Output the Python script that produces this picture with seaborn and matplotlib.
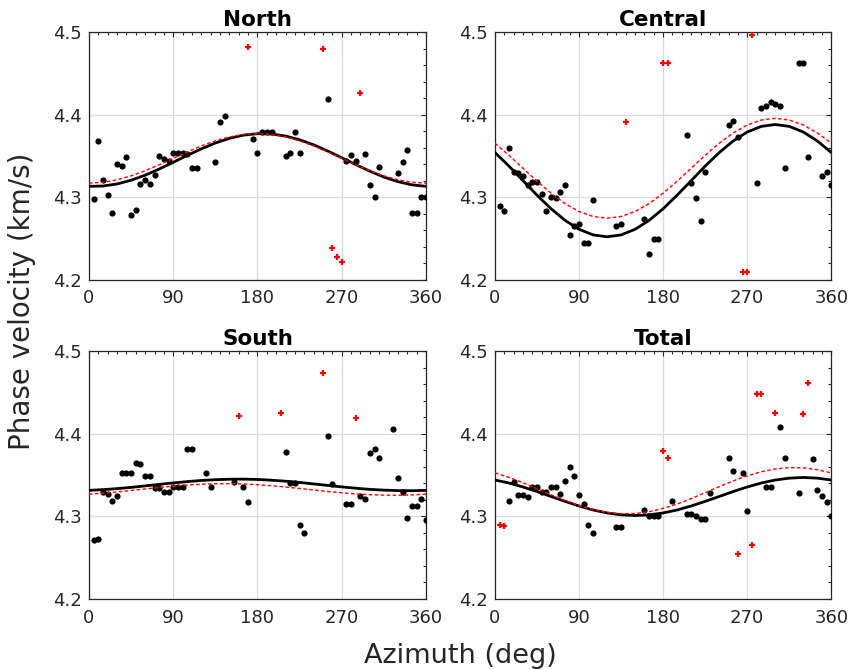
import matplotlib
matplotlib.use("Agg")
import matplotlib.pyplot as plt
from matplotlib.ticker import MultipleLocator
import seaborn as sns

# measured points (azimuth in deg, phase velocity in km/s)
north_az = [5, 10, 15, 20, 25, 30, 35, 40, 45, 50, 55, 60, 65, 70, 75, 80, 85, 90, 95, 100,
            105, 110, 115, 135, 140, 145, 175, 180, 185, 190, 195, 210, 215, 220, 225, 255,
            275, 280, 285, 295, 300, 305, 310, 330, 335, 340, 345, 350, 355, 360]
north_v = [4.298, 4.368, 4.321, 4.303, 4.281, 4.340, 4.338, 4.349, 4.278, 4.284, 4.316, 4.321,
           4.316, 4.327, 4.350, 4.346, 4.344, 4.354, 4.354, 4.354, 4.352, 4.335, 4.335, 4.342,
           4.391, 4.398, 4.371, 4.353, 4.379, 4.379, 4.379, 4.350, 4.354, 4.379, 4.354, 4.419,
           4.344, 4.351, 4.344, 4.352, 4.315, 4.300, 4.336, 4.329, 4.342, 4.357, 4.281, 4.281,
           4.300, 4.300]
north_out_az = [170, 250, 290, 260, 265, 270]
north_out_v = [4.482, 4.480, 4.426, 4.238, 4.228, 4.221]

central_az = [5, 10, 15, 20, 25, 30, 35, 40, 45, 50, 55, 60, 65, 70, 75, 80, 85, 90, 95, 100,
              105, 130, 135, 160, 165, 170, 175, 205, 210, 215, 220, 225, 250, 255, 260, 280,
              285, 290, 295, 300, 305, 310, 325, 330, 335, 350, 355, 360]
central_v = [4.289, 4.283, 4.360, 4.331, 4.329, 4.326, 4.315, 4.318, 4.318, 4.304, 4.283, 4.300,
             4.299, 4.306, 4.315, 4.254, 4.265, 4.268, 4.244, 4.245, 4.296, 4.265, 4.268, 4.274,
             4.231, 4.249, 4.249, 4.375, 4.317, 4.299, 4.271, 4.331, 4.388, 4.392, 4.373, 4.317,
             4.408, 4.411, 4.415, 4.413, 4.411, 4.335, 4.462, 4.462, 4.349, 4.326, 4.331, 4.315]
central_out_az = [140, 180, 185, 275, 265, 270]
central_out_v = [4.391, 4.463, 4.463, 4.496, 4.209, 4.209]

south_az = [5, 10, 15, 20, 25, 30, 35, 40, 45, 50, 55, 60, 65, 70, 75, 80, 85, 90, 95, 100,
            105, 110, 125, 130, 155, 165, 170, 210, 215, 220, 225, 230, 255, 260, 275, 280,
            290, 295, 300, 305, 310, 325, 330, 335, 340, 345, 350, 355, 360]
south_v = [4.271, 4.272, 4.329, 4.327, 4.318, 4.325, 4.353, 4.353, 4.352, 4.364, 4.363, 4.349,
           4.349, 4.334, 4.334, 4.329, 4.329, 4.335, 4.335, 4.335, 4.382, 4.382, 4.353, 4.335,
           4.342, 4.335, 4.317, 4.378, 4.340, 4.340, 4.289, 4.280, 4.397, 4.339, 4.315, 4.315,
           4.324, 4.321, 4.377, 4.382, 4.370, 4.406, 4.346, 4.330, 4.298, 4.312, 4.312, 4.321,
           4.295]
south_out_az = [160, 205, 250, 285]
south_out_v = [4.421, 4.425, 4.474, 4.419]

total_az = [15, 20, 25, 30, 35, 40, 45, 50, 55, 60, 65, 70, 75, 80, 85, 90, 95, 100, 105, 130,
            135, 160, 165, 170, 175, 190, 205, 210, 215, 220, 225, 230, 250, 255, 265, 270,
            290, 295, 305, 310, 325, 340, 345, 350, 355, 360]
total_v = [4.318, 4.342, 4.326, 4.326, 4.323, 4.335, 4.335, 4.329, 4.329, 4.335, 4.335, 4.327,
           4.343, 4.360, 4.349, 4.326, 4.315, 4.289, 4.280, 4.287, 4.287, 4.308, 4.300, 4.300,
           4.300, 4.318, 4.303, 4.303, 4.300, 4.297, 4.297, 4.328, 4.371, 4.355, 4.352, 4.306,
           4.335, 4.335, 4.408, 4.371, 4.328, 4.369, 4.332, 4.325, 4.317, 4.300]
total_out_az = [5, 10, 180, 185, 260, 275, 280, 285, 300, 330, 335]
total_out_v = [4.290, 4.288, 4.379, 4.370, 4.254, 4.265, 4.448, 4.448, 4.425, 4.424, 4.461]

# fitted curves, sampled every 15 deg
fit_az = [0, 15, 30, 45, 60, 75, 90, 105, 120, 135, 150, 165, 180, 195, 210, 225, 240, 255,
          270, 285, 300, 315, 330, 345, 360]
north_fit = [4.3131, 4.3135, 4.3160, 4.3205, 4.3266, 4.3341, 4.3422, 4.3506, 4.3585, 4.3656,
             4.3712, 4.3751, 4.3769, 4.3765, 4.3740, 4.3695, 4.3634, 4.3559, 4.3478, 4.3394,
             4.3315, 4.3244, 4.3188, 4.3149, 4.3131]
north_fit2 = [4.3170, 4.3180, 4.3210, 4.3258, 4.3320, 4.3392, 4.3470, 4.3548, 4.3620, 4.3682,
              4.3730, 4.3760, 4.3770, 4.3760, 4.3730, 4.3682, 4.3620, 4.3548, 4.3470, 4.3392,
              4.3320, 4.3258, 4.3210, 4.3180, 4.3170]
central_fit = [4.3540, 4.3376, 4.3200, 4.3024, 4.2860, 4.2719, 4.2611, 4.2543, 4.2520, 4.2543,
               4.2611, 4.2719, 4.2860, 4.3024, 4.3200, 4.3376, 4.3540, 4.3681, 4.3789, 4.3857,
               4.3880, 4.3857, 4.3789, 4.3681, 4.3540]
central_fit2 = [4.3653, 4.3507, 4.3350, 4.3193, 4.3048, 4.2922, 4.2826, 4.2766, 4.2745, 4.2766,
                4.2826, 4.2922, 4.3048, 4.3193, 4.3350, 4.3507, 4.3653, 4.3778, 4.3874, 4.3934,
                4.3955, 4.3934, 4.3874, 4.3778, 4.3653]
south_fit = [4.3314, 4.3323, 4.3335, 4.3350, 4.3368, 4.3386, 4.3404, 4.3420, 4.3434, 4.3443,
             4.3449, 4.3450, 4.3446, 4.3437, 4.3425, 4.3410, 4.3392, 4.3374, 4.3356, 4.3340,
             4.3326, 4.3317, 4.3311, 4.3310, 4.3314]
south_fit2 = [4.3268, 4.3280, 4.3295, 4.3313, 4.3331, 4.3349, 4.3365, 4.3379, 4.3388, 4.3394,
              4.3395, 4.3391, 4.3382, 4.3370, 4.3355, 4.3337, 4.3319, 4.3301, 4.3285, 4.3271,
              4.3262, 4.3256, 4.3255, 4.3259, 4.3268]
total_fit = [4.3439, 4.3403, 4.3355, 4.3300, 4.3240, 4.3181, 4.3125, 4.3077, 4.3041, 4.3018,
             4.3010, 4.3018, 4.3041, 4.3077, 4.3125, 4.3181, 4.3240, 4.3300, 4.3355, 4.3403,
             4.3439, 4.3462, 4.3470, 4.3462, 4.3439]
total_fit2 = [4.3525, 4.3471, 4.3406, 4.3334, 4.3261, 4.3192, 4.3130, 4.3081, 4.3047, 4.3031,
              4.3034, 4.3056, 4.3096, 4.3149, 4.3214, 4.3286, 4.3359, 4.3428, 4.3490, 4.3539,
              4.3573, 4.3589, 4.3586, 4.3564, 4.3525]

panels = [
    ("North", north_az, north_v, north_out_az, north_out_v, north_fit, north_fit2),
    ("Central", central_az, central_v, central_out_az, central_out_v, central_fit, central_fit2),
    ("South", south_az, south_v, south_out_az, south_out_v, south_fit, south_fit2),
    ("Total", total_az, total_v, total_out_az, total_out_v, total_fit, total_fit2),
]

sns.set_style("white")
plt.rcParams['font.family'] = ['DejaVu Sans']

txt = '#262626'
fig = plt.figure(figsize=(8.58, 6.70), dpi=100)
boxes = [
    [0.1037, 0.5825, 0.3928, 0.3697],
    [0.5769, 0.5825, 0.3920, 0.3697],
    [0.1037, 0.1060, 0.3928, 0.3701],
    [0.5769, 0.1060, 0.3920, 0.3701],
]

for box, (name, az, v, oaz, ov, fit, fit2) in zip(boxes, panels):
    ax = fig.add_axes(box)
    ax.set_axisbelow(True)
    ax.grid(True, color='#dadada', lw=0.9)
    sns.scatterplot(x=az, y=v, ax=ax, color='black', s=20, linewidth=0, zorder=3)
    sns.lineplot(x=fit_az, y=fit, ax=ax, color='black', lw=2.0, zorder=4)
    sns.lineplot(x=fit_az, y=fit2, ax=ax, color='red', lw=1.0,
                 linestyle=(0, (2.6, 1.7)), zorder=5)
    sns.scatterplot(x=oaz, y=ov, ax=ax, color='red', marker='+', s=20,
                    linewidth=1.6, zorder=6)
    ax.set_xlim(0, 360)
    ax.set_ylim(4.2, 4.5)
    ax.set_xticks([0, 90, 180, 270, 360])
    ax.set_yticks([4.2, 4.3, 4.4, 4.5])
    ax.xaxis.set_minor_locator(MultipleLocator(10))
    ax.yaxis.set_minor_locator(MultipleLocator(0.02))
    ax.tick_params(which='both', direction='in', top=True, right=True,
                   color=txt, width=0.8)
    ax.tick_params(which='major', length=3.5, labelsize=13, labelcolor=txt)
    ax.tick_params(which='minor', length=2)
    ax.tick_params(axis='x', pad=7)
    ax.tick_params(axis='y', pad=5)
    for sp in ax.spines.values():
        sp.set_color(txt)
        sp.set_linewidth(0.9)
    ax.set_xlabel('')
    ax.set_ylabel('')
    ax.set_title(name, fontsize=15.5, fontweight='bold', color='black', pad=4)

fig.text(0.026, 0.55, 'Phase velocity (km/s)', rotation=90, fontsize=20,
         color=txt, ha='center', va='center')
fig.text(0.536, 0.011, 'Azimuth (deg)', fontsize=19.5, color=txt,
         ha='center', va='baseline')

fig.savefig('out.png', dpi=100)
